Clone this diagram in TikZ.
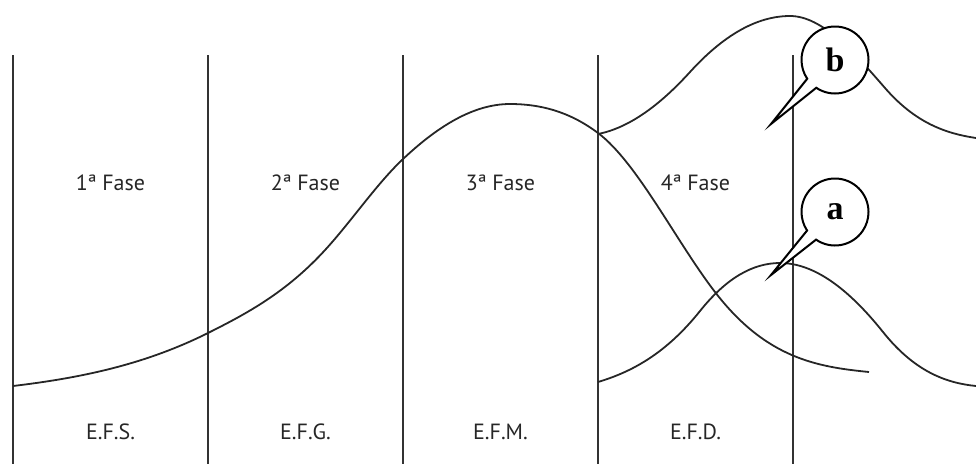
\documentclass[tikz,border=0pt]{standalone}
\usepackage{fontspec}
\setmainfont{PT Sans}
\newfontfamily\letrafont{Liberation Serif}
\usetikzlibrary{calc, shapes.callouts}

\begin{document}
\begin{tikzpicture}[x=1pt, y=-1pt, line width=1.8pt, draw=black!85,
    fase/.style={font=\fontsize{22}{22}\selectfont, text=black!85},
    balao/.style={draw=black, ellipse callout, minimum size=67pt, inner sep=0pt, line width=2pt,
        callout pointer arc=22, fill=white, font=\letrafont\bfseries\fontsize{34}{34}\selectfont}]
        \useasboundingbox (0,0) rectangle (976,464);

        % linhas verticais
        \foreach \x [count=\i] in {13,208,403,598,793} {
            \coordinate (t\i) at (\x,55);
            \coordinate (b\i) at (\x,464);
            \draw[black!80, line width=1.6pt] (t\i) -- (b\i);
        }

        % fases e etapas
        \foreach \n/\e [count=\i] in {1/S,2/G,3/M,4/D} {
            \pgfmathtruncatemacro\j{\i+1}
            \node[fase] (fase\i) at ($(t\i)!0.5!(t\j)+(0,128)$) {\n ª Fase};
            \node[fase] (efx\i) at ($(t\i)!0.5!(t\j)+(0,377)$) {E.F.\e.};
        }

        % curvas
        \draw (13,386) .. controls (78,378.2) and (143,365.5) .. (208,333)
            .. controls (247.3,313.3) and (286.7,292.2) .. (326,249)
            .. controls (351.3,221.2) and (376.7,184) .. (402,160)
            .. controls (438,125.8) and (474,104) .. (510,104)
            .. controls (539.3,104) and (568.7,111) .. (598,133)
            .. controls (637,162.3) and (676,241.3) .. (715,292)
            .. controls (766.3,358.7) and (817.7,366.9) .. (869,372);
        \draw (598,134) .. controls (628.7,127.9) and (659.3,105.8) .. (690,72)
            .. controls (723.3,35.4) and (756.7,16) .. (790,16)
            .. controls (821.7,16) and (853.3,51.5) .. (885,88)
            .. controls (915.3,122.9) and (945.7,133.5) .. (976,138);
        \draw (598,382) .. controls (632,371.8) and (666,353.5) .. (700,311)
            .. controls (726.7,277.6) and (753.3,263) .. (780,263)
            .. controls (814.3,263) and (848.7,289.1) .. (883,332)
            .. controls (914,370.8) and (945,382.9) .. (976,386);

        % baloes
        \coordinate (pb) at (771,124);
        \coordinate (pa) at (771,275);
        \node[balao, callout absolute pointer={(pb)}] (bb) at (835,60) {b};
        \node[balao, callout absolute pointer={(pa)}] (ba) at (835,212) {a};
    \end{tikzpicture}
\end{document}
